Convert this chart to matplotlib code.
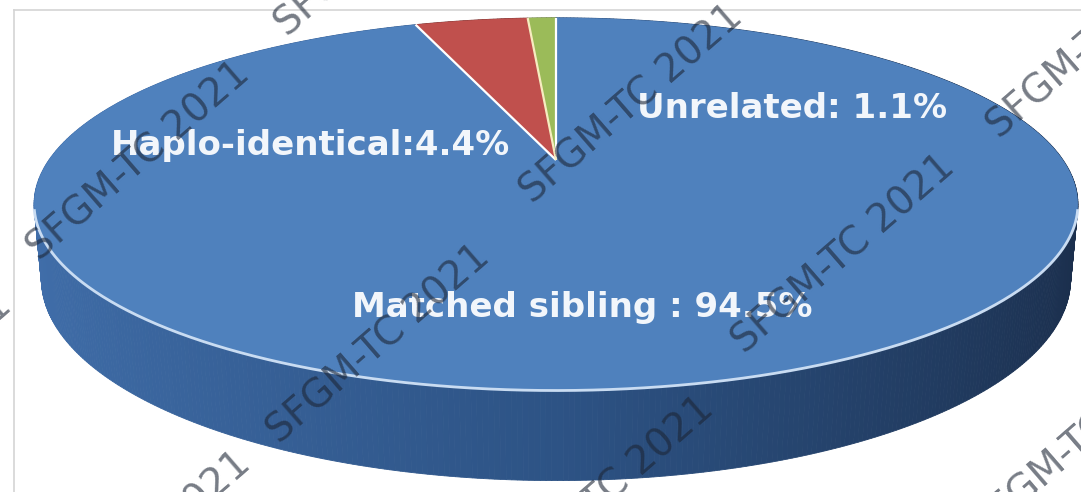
import numpy as np
import matplotlib
matplotlib.use('Agg')
import matplotlib.pyplot as plt
from matplotlib.patches import Polygon
from matplotlib.colors import to_rgb

# ---------------- data ----------------
categories = ['Matched sibling', 'Haplo-identical', 'Unrelated']
values = [94.5, 4.4, 1.1]
labels = ['Matched sibling : 94.5%', 'Haplo-identical:4.4%', 'Unrelated: 1.1%']
slice_colors = ['#4f81bd', '#c0504d', '#9bbb59']
watermark = 'SFGM-TC 2021'

# ---------------- figure ----------------
W, H = 1081, 492
fig = plt.figure(figsize=(W / 100, H / 100), dpi=100)
ax = fig.add_axes([0, 0, 1, 1])
ax.set_xlim(0, W)
ax.set_ylim(H, 0)
ax.axis('off')

# chart border (partly outside picture)
ax.plot([14, W + 5], [10, 10], color='#d4d4d4', lw=1.2, zorder=0)
ax.plot([14, 14], [10, H + 5], color='#d4d4d4', lw=1.2, zorder=0)

# perspective camera for the 3-D pie
phi = np.radians(20.3)
Dc = 3.96
F = 2008.0
cx, cy = 556.0, 160.0
thick = 0.1536


def proj(X, Y, Z):
    d = Dc + Y * np.cos(phi) - Z * np.sin(phi)
    x = F * X / d
    y = F * (Y * np.sin(phi) + Z * np.cos(phi)) / d
    return cx + x, cy - y


def mix(c1, c2, t):
    a, b = np.array(to_rgb(c1)), np.array(to_rgb(c2))
    return tuple(a + (b - a) * t)


fr = np.array(values) / np.sum(values)
bounds = np.concatenate([[0], np.cumsum(fr)]) * 2 * np.pi  # clockwise from 12 o'clock

# ---- side wall (drawn first, back to front) ----
segs = []
for i in range(len(values)):
    th = np.linspace(bounds[i], bounds[i + 1], max(3, int(fr[i] * 720)))
    for a0, a1 in zip(th[:-1], th[1:]):
        segs.append((i, a0, a1))
segs.sort(key=lambda s: -np.cos(0.5 * (s[1] + s[2])))
for i, a0, a1 in segs:
    am = 0.5 * (a0 + a1)
    xn = np.sin(am)  # -1 left, +1 right
    if i == 0:
        if xn < 0:
            col = mix('#2d5385', '#416fab', -xn)
        else:
            col = mix('#2d5385', '#1a2d4a', xn)
    else:
        col = mix(slice_colors[i], '#000000', 0.35)
    pts = [proj(np.sin(a0), np.cos(a0), 0), proj(np.sin(a1), np.cos(a1), 0),
           proj(np.sin(a1), np.cos(a1), -thick), proj(np.sin(a0), np.cos(a0), -thick)]
    ax.add_patch(Polygon(pts, closed=True, facecolor=col, edgecolor=col, lw=0.6, zorder=1))

# ---- top face wedges ----
c0 = proj(0, 0, 0)
for i in range(len(values)):
    th = np.linspace(bounds[i], bounds[i + 1], max(4, int(fr[i] * 720)))
    xs, ys = proj(np.sin(th), np.cos(th), 0)
    pts = [c0] + list(zip(xs, ys))
    ax.add_patch(Polygon(pts, closed=True, facecolor=slice_colors[i], edgecolor='none', zorder=2))

# radial separators
sep_cols = ['#ffffff', '#ffffff', '#f6ecc0']
for i, b in enumerate(bounds[:-1]):
    px, py = proj(np.sin(b), np.cos(b), 0)
    ax.plot([c0[0], px], [c0[1], py], color=sep_cols[i], lw=1.6, zorder=3,
            solid_capstyle='butt')

# light rim along the front edge
ct = -1.0 / (Dc * np.cos(phi))
a_s = np.arccos(ct)
rim = np.linspace(a_s, 2 * np.pi - a_s, 400)
rx, ry = proj(np.sin(rim), np.cos(rim), 0)
ax.plot(rx, ry, color='#c9dcf2', lw=2.0, zorder=3)

# ---- labels ----
lab_pos = {'Matched sibling': (582, 317), 'Haplo-identical': (311, 155), 'Unrelated': (792, 118)}
for cat, lab in zip(categories, labels):
    x, y = lab_pos[cat]
    ax.text(x, y, lab, ha='center', va='baseline', fontsize=24.5, fontweight='bold',
            family='DejaVu Sans', color='#f2f6fb', zorder=5)

# ---- watermarks ----
wm_starts = [(288, 38), (40, 262), (533, 205), (1000, 140), (280, 445),
             (745, 355), (41, 652), (504, 597), (985, 540), (-198, 494)]
for (x, y) in wm_starts:
    ax.text(x, y, watermark, rotation=41, rotation_mode='anchor', ha='left', va='baseline',
            fontsize=28, family='DejaVu Sans', color='#1c2535', alpha=0.6, zorder=6,
            clip_on=True)

fig.savefig('out.png', dpi=100)
